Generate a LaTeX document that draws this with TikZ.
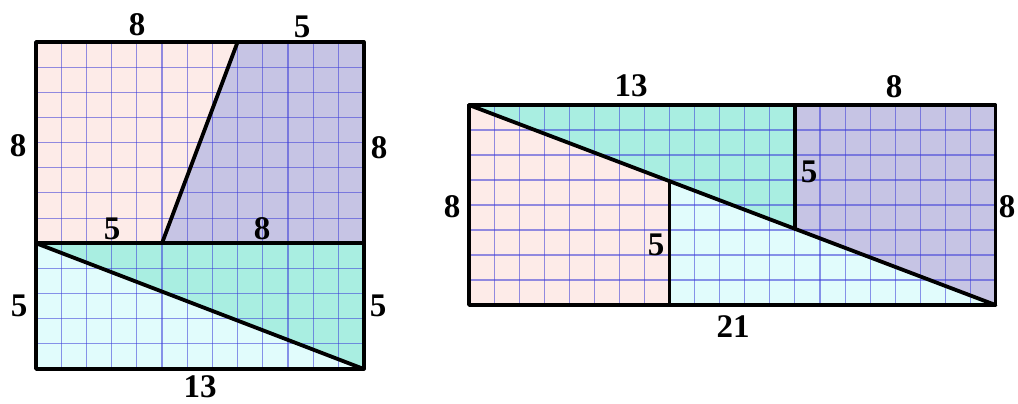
\documentclass[tikz,border=0pt]{standalone}
\usepackage{fontspec}
\setmainfont{Liberation Serif}
\definecolor{pinkc}{HTML}{FDEBE8}
\definecolor{purpc}{HTML}{C6C4E4}
\definecolor{tealc}{HTML}{A9EEE1}
\definecolor{cyanc}{HTML}{E1FCFC}
\definecolor{gridc}{HTML}{3A3AD8}
\tikzset{
  gridline/.style={draw=gridc, draw opacity=0.55, line width=1.1pt},
  thick line/.style={line width=3.8pt, line cap=round, line join=round},
  lab/.style={font=\fontsize{33}{35}\selectfont\bfseries, inner sep=0pt},
}
\begin{document}
\begin{tikzpicture}[x=1pt,y=-1pt]
\useasboundingbox (0,0) rectangle (1018,404);
% ---------- left square (13 x 13) ----------
\begin{scope}[shift={(36,42)}, x=25.2pt, y=-25.15pt]
  \coordinate (LA) at (0,0);
  \coordinate (LB) at (8,0);
  \coordinate (LC) at (13,0);
  \coordinate (LD) at (13,8);
  \coordinate (LE) at (13,13);
  \coordinate (LF) at (0,13);
  \coordinate (LG) at (0,8);
  \coordinate (LH) at (5,8);
  \fill[pinkc] (LA) -- (LB) -- (LH) -- (LG) -- cycle;
  \fill[purpc] (LB) -- (LC) -- (LD) -- (LH) -- cycle;
  \fill[tealc] (LG) -- (LD) -- (LE) -- cycle;
  \fill[cyanc] (LG) -- (LE) -- (LF) -- cycle;
  \foreach \i in {1,...,12} {
    \draw[gridline] (\i,0) -- (\i,13);
    \draw[gridline] (0,\i) -- (13,\i);
  }
  \draw[thick line] (LA) rectangle (LE);
  \draw[thick line] (LG) -- (LD);
  \draw[thick line] (LB) -- (LH);
  \draw[thick line] (LG) -- (LE);
\end{scope}
% ---------- right rectangle (21 x 8) ----------
\begin{scope}[shift={(469,105)}, x=25.07pt, y=-25pt]
  \coordinate (RA) at (0,0);
  \coordinate (RB) at (13,0);
  \coordinate (RC) at (21,0);
  \coordinate (RD) at (21,8);
  \coordinate (RE) at (8,8);
  \coordinate (RF) at (0,8);
  \coordinate (RP) at (8,64/21);
  \coordinate (RQ) at (13,104/21);
  \fill[pinkc] (RA) -- (RP) -- (RE) -- (RF) -- cycle;
  \fill[tealc] (RA) -- (RB) -- (RQ) -- cycle;
  \fill[purpc] (RB) -- (RC) -- (RD) -- (RQ) -- cycle;
  \fill[cyanc] (RP) -- (RD) -- (RE) -- cycle;
  \foreach \i in {1,...,20} {
    \draw[gridline] (\i,0) -- (\i,8);
  }
  \foreach \j in {1,...,7} {
    \draw[gridline] (0,\j) -- (21,\j);
  }
  \draw[thick line] (RA) rectangle (RD);
  \draw[thick line] (RA) -- (RD);
  \draw[thick line] (RP) -- (RE);
  \draw[thick line] (RB) -- (RQ);
\end{scope}
% ---------- labels ----------
\node[lab] (l1) at (137,25) {8};
\node[lab] (l2) at (302,27) {5};
\node[lab] (l3) at (18,146) {8};
\node[lab] (l4) at (379,148) {8};
\node[lab] (l5) at (112,229) {5};
\node[lab] (l6) at (262,229) {8};
\node[lab] (l7) at (19,306) {5};
\node[lab] (l8) at (378,306) {5};
\node[lab] (l9) at (200,387) {13};
\node[lab] (r1) at (631,86) {13};
\node[lab] (r2) at (894,87) {8};
\node[lab] (r3) at (452,207) {8};
\node[lab] (r4) at (1007,207) {8};
\node[lab] (r5) at (809,172) {5};
\node[lab] (r6) at (656,245) {5};
\node[lab] (r7) at (733,327) {21};
\end{tikzpicture}
\end{document}
